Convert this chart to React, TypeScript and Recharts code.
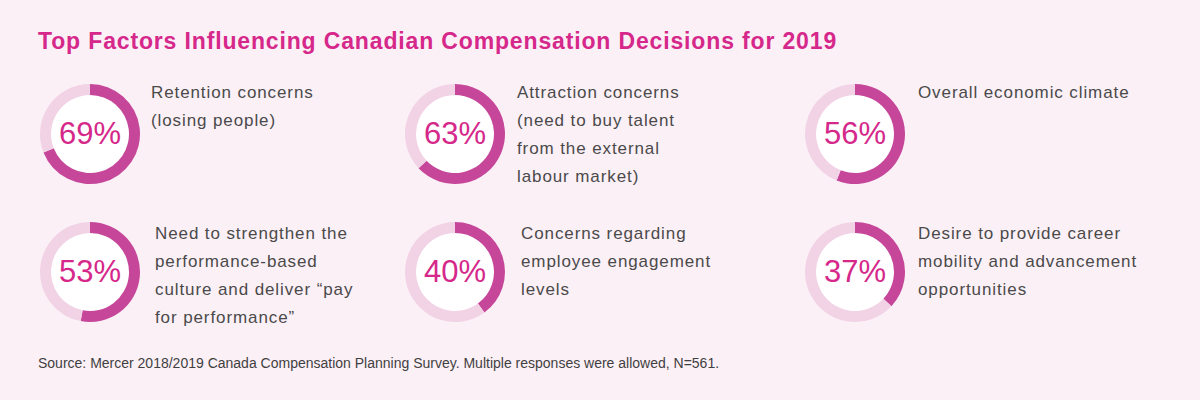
import { Cell, Pie, PieChart } from "recharts";

const TITLE = "Top Factors Influencing Canadian Compensation Decisions for 2019";
const SOURCE = "Source: Mercer 2018/2019 Canada Compensation Planning Survey. Multiple responses were allowed, N=561.";

const percents = [69, 63, 56, 53, 40, 37];
const labels = [
  ["Retention concerns", "(losing people)"],
  ["Attraction concerns", "(need to buy talent", "from the external", "labour market)"],
  ["Overall economic climate"],
  ["Need to strengthen the", "performance-based", "culture and deliver \u201cpay", "for performance\u201d"],
  ["Concerns regarding", "employee engagement", "levels"],
  ["Desire to provide career", "mobility and advancement", "opportunities"],
];

const BG = "#fcf0f7";
const ARC = "#c6479a";
const TRACK = "#f1d3e5";
const PINK = "#d5288a";
const FONT = "'Liberation Sans', Arial, sans-serif";

// layout of the 3x2 grid
const centersX = [90, 455, 855];
const centersY = [134, 272];
const textX = [[151, 517, 918], [155, 521, 918]];
const SIZE = 110;

function Donut({ value, cx, cy }: { value: number; cx: number; cy: number }) {
  const data = [
    { name: "yes", value },
    { name: "rest", value: 100 - value },
  ];
  return (
    <div style={{ position: "absolute", left: cx - SIZE / 2, top: cy - SIZE / 2, width: SIZE, height: SIZE }}>
      <PieChart width={SIZE} height={SIZE} margin={{ top: 0, right: 0, bottom: 0, left: 0 }}>
        <Pie isAnimationActive={false} data={[{ value: 1 }]} dataKey="value" cx="50%" cy="50%" innerRadius={0} outerRadius={39} fill="#ffffff" stroke="none" />
        <Pie
          isAnimationActive={false}
          data={data}
          dataKey="value"
          cx="50%"
          cy="50%"
          innerRadius={39}
          outerRadius={50}
          startAngle={90}
          endAngle={-270}
          stroke="none"
        >
          <Cell fill={ARC} />
          <Cell fill={TRACK} />
        </Pie>
      </PieChart>
      <div
        style={{
          position: "absolute",
          left: 0,
          top: 0,
          width: SIZE,
          height: SIZE,
          display: "flex",
          alignItems: "center",
          justifyContent: "center",
          fontFamily: FONT,
          fontSize: 31,
          color: PINK,
        }}
      >
        {value}%
      </div>
    </div>
  );
}

export default function App() {
  return (
    <div style={{ position: "absolute", left: 0, top: 0, width: 1200, height: 400, background: BG, overflow: "hidden" }}>
      <div
        style={{
          position: "absolute",
          left: 38,
          top: 28,
          fontFamily: FONT,
          fontWeight: 700,
          fontSize: 23,
          letterSpacing: 0.85,
          color: PINK,
          whiteSpace: "nowrap",
        }}
      >
        {TITLE}
      </div>
      {percents.map((p, i) => {
        const row = Math.floor(i / 3);
        const col = i % 3;
        return <Donut key={i} value={p} cx={centersX[col]} cy={centersY[row]} />;
      })}
      {labels.map((lines, i) => {
        const row = Math.floor(i / 3);
        const col = i % 3;
        return (
          <div
            key={i}
            style={{
              position: "absolute",
              left: textX[row][col],
              top: row === 0 ? 79 : 220,
              fontFamily: FONT,
              fontSize: 17,
              letterSpacing: 0.9,
              lineHeight: "28px",
              color: "#4a4a4a",
              whiteSpace: "nowrap",
            }}
          >
            {lines.map((l, j) => (
              <div key={j}>{l}</div>
            ))}
          </div>
        );
      })}
      <div
        style={{
          position: "absolute",
          left: 38,
          top: 355,
          fontFamily: FONT,
          fontSize: 14,
          color: "#3f3f3f",
          whiteSpace: "nowrap",
        }}
      >
        {SOURCE}
      </div>
    </div>
  );
}
